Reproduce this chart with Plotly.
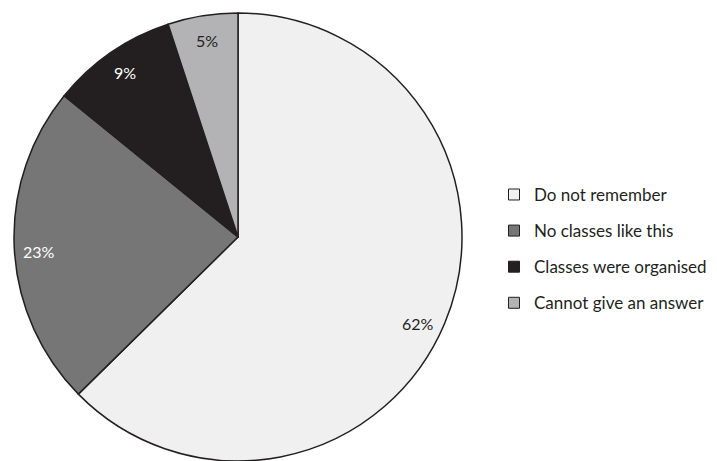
import math
import plotly.graph_objects as go

# Survey responses
categories = ["Do not remember", "No classes like this", "Classes were organised", "Cannot give an answer"]
shares = [62, 23, 9, 5]
slice_colors = ["#f0f0f0", "#767676", "#231f20", "#b3b3b5"]
label_colors = ["#231f20", "#ffffff", "#ffffff", "#231f20"]
label_radius = 0.89
label_angle_shift = [3, -1.5, 0, 0]  # degrees, nudges labels off the mid-angle

W, H = 717, 461
cx, cy, R = 238, 237, 224  # pie centre and radius in pixels
FONT = "Lato, Carlito, sans-serif"

fig = go.Figure()
fig.add_trace(go.Pie(
    labels=categories,
    values=shares,
    sort=False,
    direction="clockwise",
    rotation=0,
    marker=dict(colors=slice_colors, line=dict(color="#231f20", width=1.5)),
    textinfo="none",
    hoverinfo="label+percent",
    showlegend=False,
    domain=dict(x=[(cx - R) / W, (cx + R) / W],
                y=[max(0.0, 1 - (cy + R) / H), min(1.0, 1 - (cy - R) / H)]),
))

# Percentage labels placed along each slice's mid-angle
total = sum(shares)
start = 0.0
annotations = []
for v, col, shift in zip(shares, label_colors, label_angle_shift):
    mid = (start + v / 2) / total * 2 * math.pi + math.radians(shift)
    start += v
    px = cx + label_radius * R * math.sin(mid)
    py = cy - label_radius * R * math.cos(mid)
    annotations.append(dict(
        x=px / W, y=1 - py / H, xref="paper", yref="paper",
        xanchor="center", yanchor="middle",
        text=f"{v}%", showarrow=False,
        font=dict(family=FONT, size=16, color=col),
    ))

# Legend entries (one group each so the entries can be spaced out)
for name, col in zip(categories, slice_colors):
    fig.add_trace(go.Scatter(
        x=[None], y=[None], mode="markers", name=name,
        legendgroup=name,
        marker=dict(symbol="square", size=11, color=col, line=dict(color="#231f20", width=1)),
    ))

fig.update_layout(
    width=W, height=H,
    margin=dict(l=0, r=0, t=0, b=0, autoexpand=False),
    paper_bgcolor="white", plot_bgcolor="white",
    xaxis=dict(visible=False), yaxis=dict(visible=False),
    annotations=annotations,
    legend=dict(
        x=0.689, y=0.46, xanchor="left", yanchor="middle",
        font=dict(family=FONT, size=17, color="#231f20"),
        tracegroupgap=11, itemwidth=30, bgcolor="rgba(0,0,0,0)",
    ),
)

fig.write_html("out.html")
